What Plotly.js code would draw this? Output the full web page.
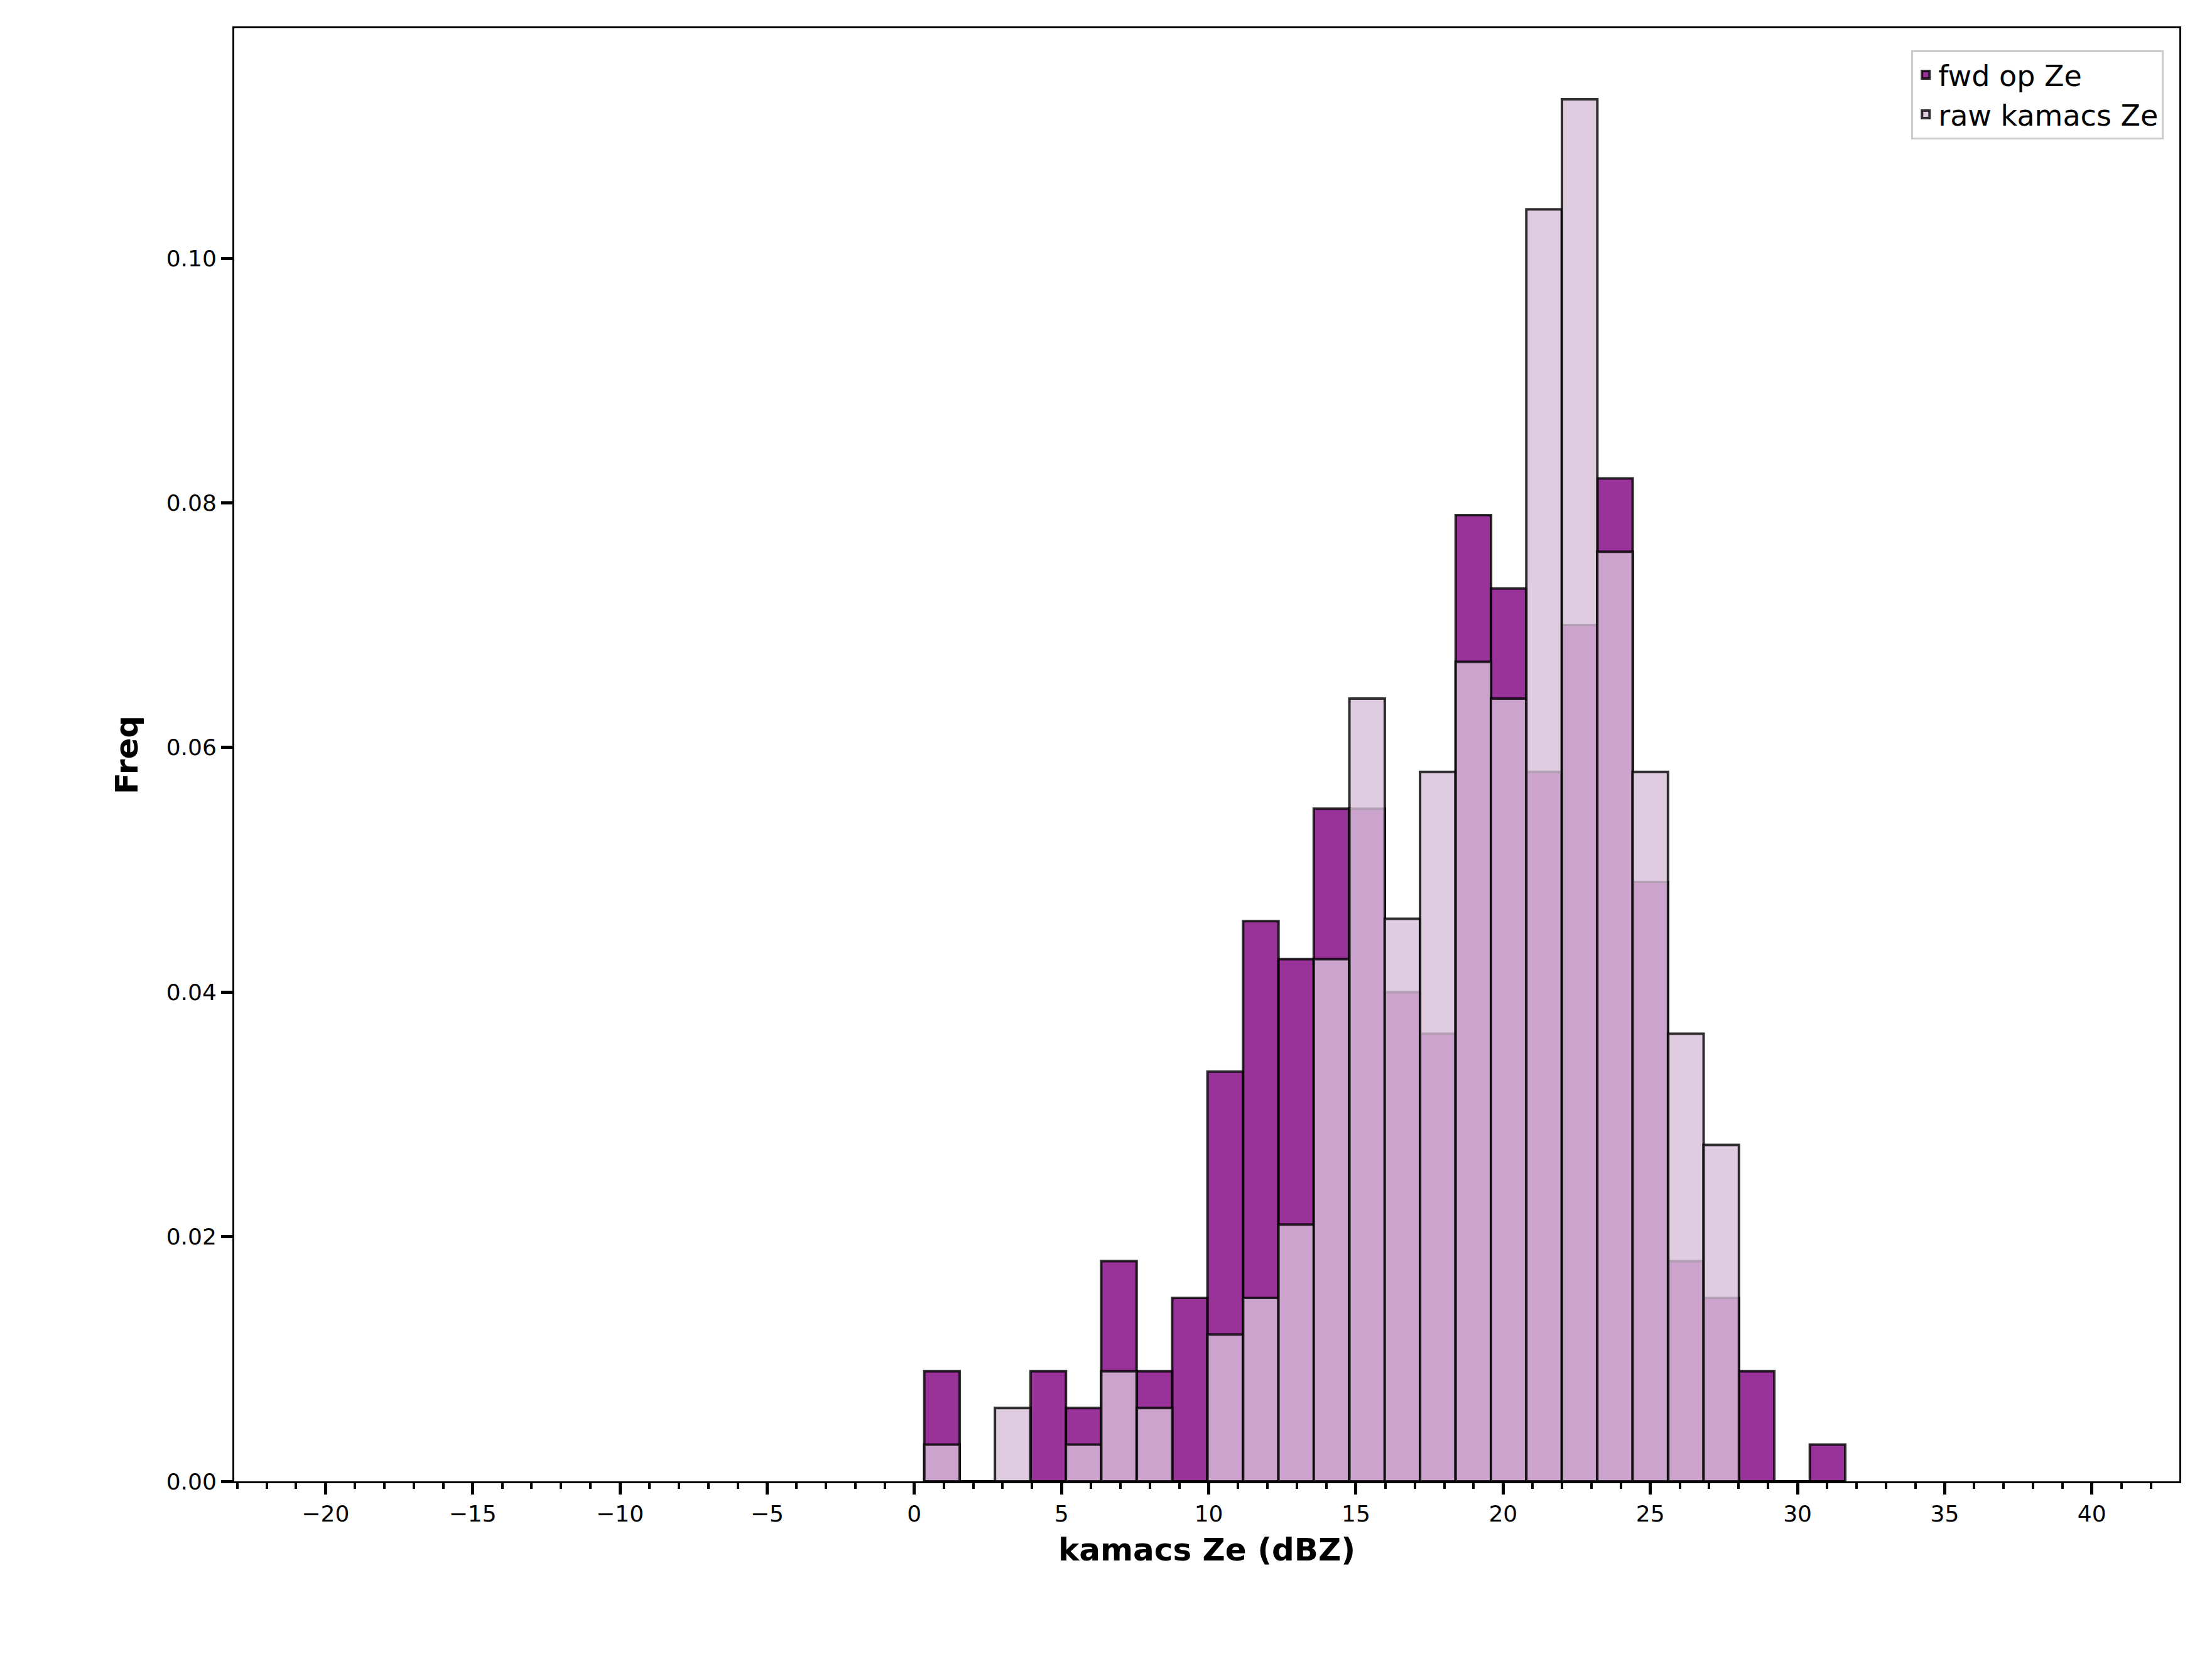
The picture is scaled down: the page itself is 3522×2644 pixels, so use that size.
<!DOCTYPE html>
<html>
<head>
<meta charset="utf-8">
<script src="https://cdn.plot.ly/plotly-3.0.1.min.js"></script>
<style>html,body{margin:0;padding:0;background:#fff;}</style>
</head>
<body>
<div id="chart" style="width:3522px;height:2644px;"></div>
<script>
// bin centres (dBZ), bin width ~1.2
var binCenters = [0.94, 2.14, 3.34, 4.55, 5.75, 6.95, 8.16, 9.36, 10.56, 11.77,
    12.97, 14.17, 15.38, 16.58, 17.78, 18.99, 20.19, 21.39, 22.60, 23.80,
    25.00, 26.21, 27.41, 28.61, 29.82, 31.02];
var binWidth = 1.203;

var fwdFreq = [0.009, 0, 0, 0.009, 0.006, 0.018, 0.009, 0.015, 0.0335, 0.0458,
    0.0427, 0.055, 0.055, 0.040, 0.0366, 0.079, 0.073, 0.058, 0.070, 0.082,
    0.049, 0.018, 0.015, 0.009, 0, 0.003];
var rawFreq = [0.003, 0, 0.006, 0, 0.003, 0.009, 0.006, 0, 0.012, 0.015,
    0.021, 0.0427, 0.064, 0.046, 0.058, 0.067, 0.064, 0.104, 0.113, 0.076,
    0.058, 0.0366, 0.0275, 0, 0, 0];

var edge = {color: 'rgba(0,0,0,0.8)', width: 4};

var traceFwd = {
    x: binCenters, y: fwdFreq, width: binWidth,
    type: 'bar', name: 'fwd op Ze',
    marker: {color: 'rgba(128,0,128,0.8)', line: edge}
};
var traceRaw = {
    x: binCenters, y: rawFreq, width: binWidth,
    type: 'bar', name: 'raw kamacs Ze',
    marker: {color: 'rgba(216,191,216,0.8)', line: edge}
};

var tickFont = {family: 'DejaVu Sans', size: 36, color: '#000'};

var layout = {
    width: 3522, height: 2644,
    barmode: 'overlay',
    paper_bgcolor: '#fff', plot_bgcolor: '#fff',
    margin: {l: 373, r: 52, t: 45, b: 286},
    font: tickFont,
    xaxis: {
        range: [-23.1, 42.97], tickvals: [-20, -15, -10, -5, 0, 5, 10, 15, 20, 25, 30, 35, 40],
        ticktext: ['\u221220', '\u221215', '\u221210', '\u22125', '0', '5', '10', '15', '20', '25', '30', '35', '40'],
        ticks: 'outside', ticklen: 18, tickwidth: 4.5, tickcolor: '#000',
        minor: {dtick: 1, tick0: 0, ticks: 'outside', ticklen: 9, tickwidth: 3.5, tickcolor: '#000'},
        showgrid: false, zeroline: false,
        showline: true, linecolor: '#000', linewidth: 3, mirror: true,
        tickfont: tickFont,
        title: {text: '<b>kamacs Ze (dBZ)</b>', font: {family: 'DejaVu Sans', size: 50, color: '#000'}, standoff: 20}
    },
    yaxis: {
        range: [0, 0.1188], tickvals: [0, 0.02, 0.04, 0.06, 0.08, 0.10],
        tickformat: '.2f',
        ticks: 'outside', ticklen: 18, tickwidth: 4.5, tickcolor: '#000',
        showgrid: false, zeroline: false,
        showline: true, linecolor: '#000', linewidth: 3, mirror: true,
        tickfont: tickFont,
        title: {text: '<b>Freq</b>', font: {family: 'DejaVu Sans', size: 50, color: '#000'}, standoff: 30}
    },
    legend: {
        x: 0.992, y: 0.985, xanchor: 'right', yanchor: 'top',
        bgcolor: 'rgba(255,255,255,0.8)', bordercolor: '#ccc', borderwidth: 3,
        font: {family: 'DejaVu Sans', size: 46, color: '#000'},
        traceorder: 'normal'
    },
    showlegend: true
};

Plotly.newPlot('chart', [traceFwd, traceRaw], layout, {displayModeBar: false});
</script>
</body>
</html>
